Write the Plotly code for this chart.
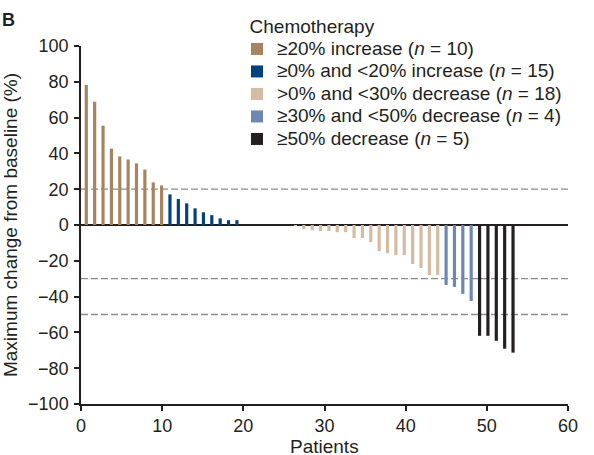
import plotly.graph_objects as go

# ---- data ----
group_labels = [
    "≥20% increase (<i>n</i> = 10)",
    "≥0% and <20% increase (<i>n</i> = 15)",
    ">0% and <30% decrease (<i>n</i> = 18)",
    "≥30% and <50% decrease (<i>n</i> = 4)",
    "≥50% decrease (<i>n</i> = 5)",
]
group_colors = ["#A7845F", "#00417F", "#D4BBA1", "#6E86B4", "#231F20"]

patients_g1 = list(range(1, 11))
values_g1 = [78.3, 68.9, 55.5, 42.7, 38.3, 36.6, 34.4, 31.0, 23.8, 22.1]

patients_g2 = list(range(11, 26))
values_g2 = [17.1, 14.5, 12.1, 9.3, 7.1, 5.5, 3.7, 2.7, 2.7, 0, 0, 0, 0, 0, 0]

patients_g3 = list(range(26, 44))
values_g3 = [-0.5, -2.3, -2.9, -3.4, -3.4, -4.0, -4.0, -7.3, -7.3, -9.6,
             -14.6, -15.7, -16.8, -16.8, -21.8, -24.0, -27.9, -27.9]

patients_g4 = list(range(44, 48))
values_g4 = [-33.5, -34.6, -38.5, -42.4]

patients_g5 = list(range(48, 53))
values_g5 = [-61.9, -61.9, -64.7, -69.1, -71.3]

threshold_lines = [20, -30, -50]
x_ticks = [0, 10, 20, 30, 40, 50, 60]
y_ticks = [100, 80, 60, 40, 20, 0, -20, -40, -60, -80, -100]

# ---- figure ----
FONT = "Liberation Sans, Arial, Helvetica, sans-serif"
INK = "#231F20"
W, H = 594, 455
ML, MR, MT, MB = 81, 26, 46, 51
PW, PH = W - ML - MR, H - MT - MB

fig = go.Figure()
groups = [(patients_g1, values_g1), (patients_g2, values_g2), (patients_g3, values_g3),
          (patients_g4, values_g4), (patients_g5, values_g5)]
for (px, vals), label, col in zip(groups, group_labels, group_colors):
    fig.add_trace(go.Bar(
        x=px, y=vals,
        name='<span style="font-size:19px">' + label + '</span>',
        marker=dict(color=col, line=dict(width=0)),
        width=0.38, xaxis="x2", yaxis="y"))

for yv in threshold_lines:
    fig.add_shape(type="line", xref="x", yref="y", x0=0, x1=60, y0=yv, y1=yv,
                  line=dict(color="#8C8C8C", width=1.3, dash="7px,3px"), layer="below")

axis_common = dict(ticks="outside", ticklen=5, tickwidth=1.5, tickcolor=INK,
                   showline=True, linecolor=INK, linewidth=1.5, showgrid=False,
                   tickfont=dict(size=18, color=INK), automargin=False)

fig.update_layout(
    width=W, height=H,
    margin=dict(l=ML, r=MR, t=MT, b=MB, autoexpand=False),
    paper_bgcolor="white", plot_bgcolor="white",
    font=dict(family=FONT, color=INK, size=18),
    showlegend=True,
    barmode="overlay",
    xaxis=dict(range=[0, 60], tickvals=x_ticks, zeroline=False, ticklabelstandoff=0,
               **axis_common),
    xaxis2=dict(range=[0.367, 58.57], overlaying="x", visible=False),
    yaxis=dict(range=[-100, 100], tickvals=y_ticks, zeroline=True, zerolinecolor=INK,
               zerolinewidth=2, ticklabelstandoff=2,
               title=dict(text="Maximum change from baseline (%)", font=dict(size=19)),
               **axis_common),
    legend=dict(x=(237 - ML) / PW, y=(H - MB - 8) / PH, xanchor="left", yanchor="top",
                bgcolor="rgba(0,0,0,0)", font=dict(size=15, color=INK, family=FONT),
                title=dict(text="\u00a0\u00a0Chemotherapy", font=dict(size=19, color=INK, family=FONT)),
                traceorder="normal", itemclick=False, itemdoubleclick=False),
    annotations=[
        dict(text="<b>B</b>", xref="paper", yref="paper", x=(0 - ML) / PW,
             y=(H - MB - 8) / PH, xanchor="left", yanchor="top", showarrow=False,
             font=dict(size=18, color=INK)),
        dict(text="Patients", xref="paper", yref="paper", x=0.5,
             y=-(446 - (H - MB)) / PH, xanchor="center", yanchor="middle", showarrow=False,
             font=dict(size=19, color=INK)),
    ],
)

fig.write_html("out.html")
